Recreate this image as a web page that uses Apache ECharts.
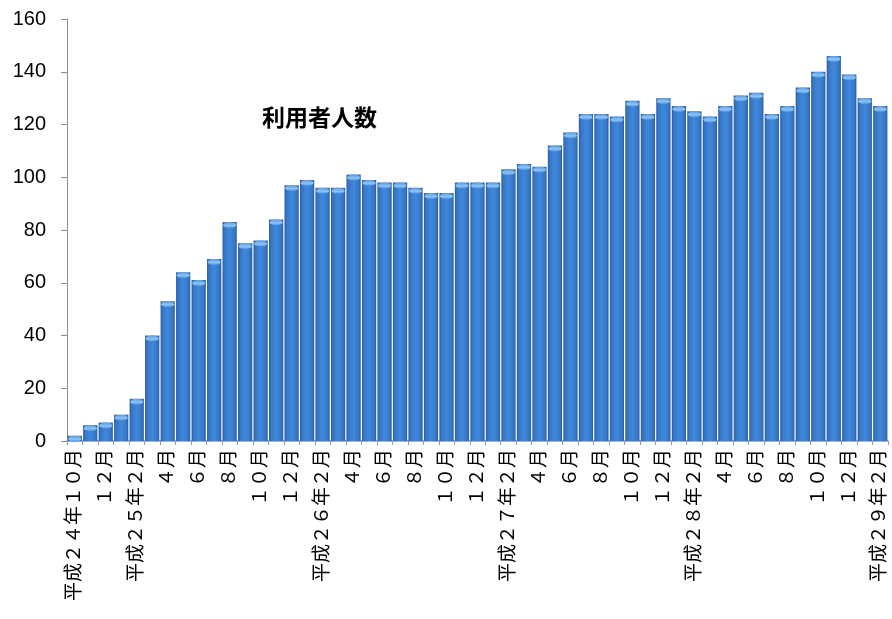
<!DOCTYPE html>
<html>
<head>
<meta charset="utf-8">
<script src="https://cdn.jsdelivr.net/npm/echarts@6/dist/echarts.min.js"></script>
<style>
html,body{margin:0;padding:0;background:#fff;}
#chart{width:892px;height:619px;}
</style>
</head>
<body>
<div id="chart"></div>
<script>
const categories = [
  "平成２４年１０月","１１月","１２月","１月",
  "平成２５年２月","３月","４月","５月","６月","７月","８月","９月","１０月","１１月","１２月","１月",
  "平成２６年２月","３月","４月","５月","６月","７月","８月","９月","１０月","１１月","１２月","１月",
  "平成２７年２月","３月","４月","５月","６月","７月","８月","９月","１０月","１１月","１２月","１月",
  "平成２８年２月","３月","４月","５月","６月","７月","８月","９月","１０月","１１月","１２月","１月",
  "平成２９年２月"
];
const users = [
  2,6,7,10,
  16,40,53,64,61,69,83,75,76,84,97,99,
  96,96,101,99,98,98,96,94,94,98,98,98,
  103,105,104,112,117,124,124,123,129,124,130,127,
  125,123,127,131,132,124,127,134,140,146,139,130,
  127
];
const yTicks = [0,20,40,60,80,100,120,140,160];
const titleText = "利用者人数";

const chart = echarts.init(document.getElementById('chart'));
const txtFont = "'Liberation Sans','Noto Sans CJK JP',sans-serif";
chart.setOption({
  animation:false,
  backgroundColor:'#ffffff',
  title:{
    text:titleText,
    left:257, top:101,
    textStyle:{fontSize:23,fontWeight:'bold',color:'#000',fontFamily:"'Noto Sans CJK JP',sans-serif"}
  },
  grid:{left:67,right:4,top:19,bottom:178,containLabel:false},
  xAxis:{
    type:'category',
    data:categories,
    boundaryGap:true,
    axisLine:{lineStyle:{color:'#8e9aab',width:1.5}},
    axisTick:{show:true,length:4,interval:0,lineStyle:{color:'#8e9aab'}},
    axisLabel:{
      interval:1,
      rotate:90,
      margin:8,
      fontSize:19,
      color:'#000',
      fontFamily:txtFont
    }
  },
  yAxis:{
    type:'value',
    min:yTicks[0], max:yTicks[yTicks.length-1], interval:20,
    splitLine:{show:false},
    axisLine:{show:true,lineStyle:{color:'#8c8c8c',width:1}},
    axisTick:{show:true,length:6,lineStyle:{color:'#8c8c8c'}},
    axisLabel:{fontSize:20,color:'#000',margin:21,fontFamily:txtFont}
  },
  series:[
    {
      type:'bar',
      data:users,
      barCategoryGap:'8%',
      z:2,
      itemStyle:{
        color:new echarts.graphic.LinearGradient(0,0,1,0,[
          {offset:0,color:'#2b5c9f'},
          {offset:0.15,color:'#3677c8'},
          {offset:0.5,color:'#4088dc'},
          {offset:0.85,color:'#3677c8'},
          {offset:1,color:'#2b5c9f'}
        ])
      }
    },
    {
      type:'pictorialBar',
      data:users,
      symbol:'circle',
      symbolSize:[13,6],
      symbolPosition:'end',
      symbolOffset:[0,0],
      barGap:'-100%',
      z:3,
      itemStyle:{
        color:new echarts.graphic.LinearGradient(0,0,0,1,[
          {offset:0,color:'#5b9be6'},
          {offset:0.6,color:'#8cc4f5'},
          {offset:1,color:'#4a8ee0'}
        ])
      }
    }
  ]
});
</script>
</body>
</html>
